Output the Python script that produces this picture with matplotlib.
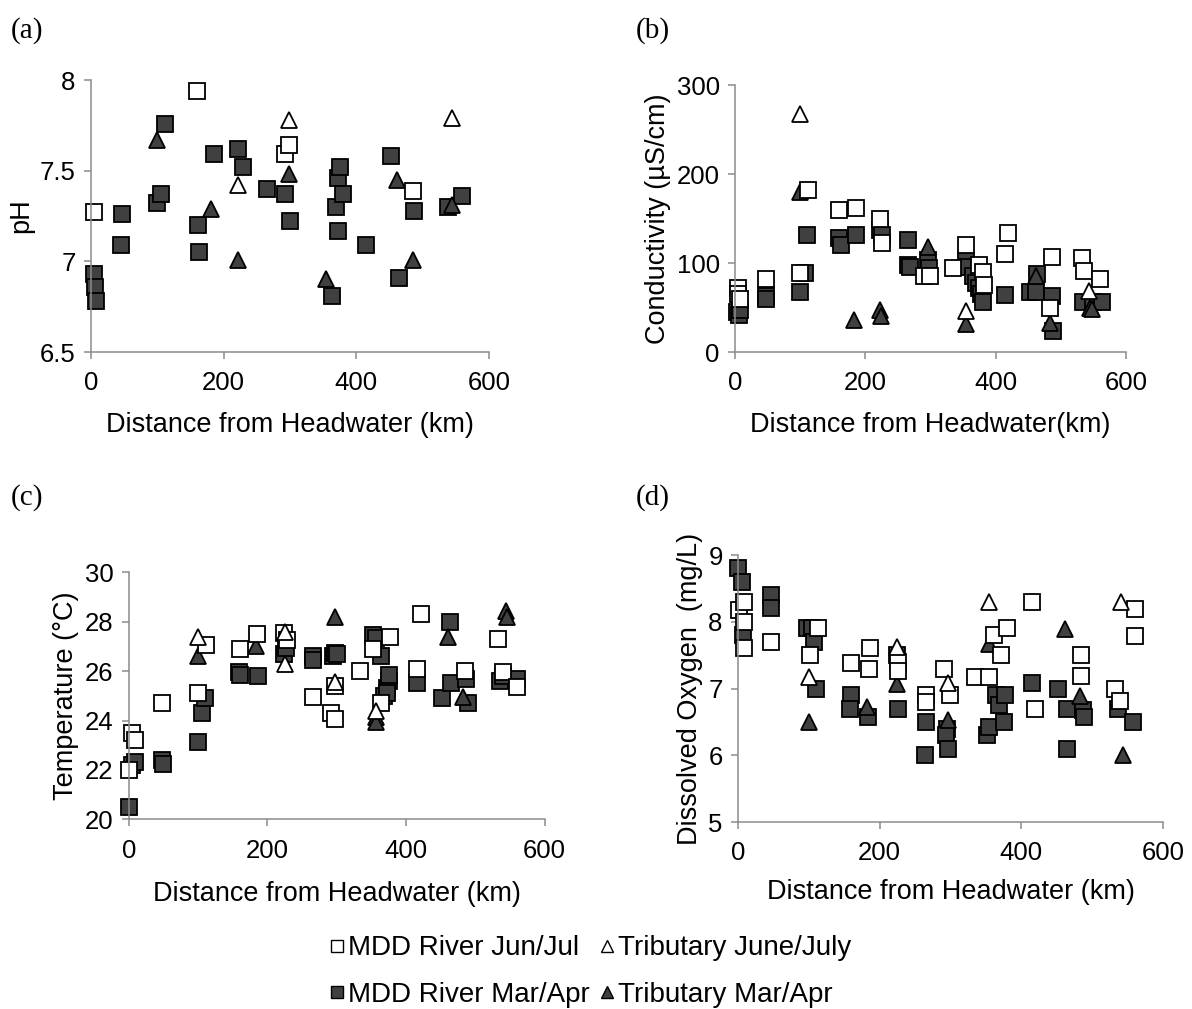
import matplotlib
matplotlib.use("Agg")
import matplotlib.pyplot as plt
from matplotlib.lines import Line2D

plt.rcParams['font.family'] = ['Liberation Sans', 'DejaVu Sans']

# (a) pH
a_mdd_jj_x = [5, 160, 292, 298, 486]
a_mdd_jj_y = [7.27, 7.94, 7.59, 7.64, 7.39]
a_trib_jj_x = [222, 298, 545]
a_trib_jj_y = [7.42, 7.78, 7.79]
a_mdd_ma_x = [4, 6, 7, 45, 47, 99, 105, 111, 161, 163, 186, 222, 229, 265, 293, 300,
              364, 369, 373, 373, 376, 380, 415, 453, 465, 487, 538, 560]
a_mdd_ma_y = [6.93, 6.86, 6.78, 7.09, 7.26, 7.32, 7.37, 7.76, 7.20, 7.05, 7.59, 7.62, 7.52, 7.40, 7.37, 7.22,
              6.81, 7.30, 7.46, 7.17, 7.52, 7.37, 7.09, 7.58, 6.91, 7.28, 7.30, 7.36]
a_trib_ma_x = [100, 181, 222, 298, 355, 462, 485, 545]
a_trib_ma_y = [7.67, 7.29, 7.01, 7.48, 6.90, 7.45, 7.01, 7.31]

# (b) conductivity
b_mdd_jj_x = [5, 5, 8, 47, 100, 112, 160, 186, 223, 226, 290, 300, 334, 355, 375, 380, 382,
              419, 415, 486, 484, 532, 536, 560]
b_mdd_jj_y = [72, 65, 60, 82, 89, 182, 160, 162, 150, 123, 85, 85, 94, 120, 98, 90, 75,
              134, 110, 107, 50, 106, 91, 82]
b_mdd_ma_x = [3, 6, 8, 47, 48, 100, 108, 110, 160, 162, 186, 222, 226, 265, 265, 268, 296, 298,
              355, 358, 366, 370, 375, 378, 380, 415, 452, 462, 464, 486, 488, 534, 550, 563]
b_mdd_ma_y = [45, 42, 47, 63, 60, 67, 89, 131, 128, 120, 132, 137, 131, 126, 98, 96, 103, 94,
              103, 95, 85, 78, 72, 65, 56, 64, 67, 67, 88, 63, 24, 56, 56, 56]
b_trib_jj_x = [100, 355, 543]
b_trib_jj_y = [268, 46, 69]
b_trib_ma_x = [100, 182, 222, 224, 296, 355, 462, 484, 545, 548]
b_trib_ma_y = [180, 36, 47, 41, 118, 31, 86, 33, 50, 48]

# (c) temperature
c_mdd_jj_x = [0, 5, 8, 47, 100, 111, 160, 185, 224, 228, 265, 292, 297, 298, 333, 353, 364,
              377, 416, 421, 485, 533, 540, 560]
c_mdd_jj_y = [22.0, 23.5, 23.2, 24.7, 25.1, 27.05, 26.9, 27.5, 27.55, 27.25, 24.95, 24.3, 24.05, 25.4,
              26.0, 26.9, 24.7, 27.4, 26.1, 28.3, 26.0, 27.3, 25.95, 25.35]
c_trib_jj_x = [100, 225, 225, 298, 356]
c_trib_jj_y = [27.4, 27.6, 26.3, 25.55, 24.4]
c_mdd_ma_x = [0, 5, 9, 47, 49, 100, 105, 110, 159, 161, 187, 224, 227, 265, 266, 294, 297, 300,
              353, 357, 364, 368, 372, 375, 376, 373, 416, 452, 465, 464, 487, 490, 536, 540, 560]
c_mdd_ma_y = [20.5, 22.2, 22.3, 22.4, 22.25, 23.15, 24.3, 24.9, 25.95, 25.85, 25.8, 26.7, 26.95, 26.6,
              26.45, 26.6, 26.75, 26.7, 27.45, 27.35, 26.6, 25.0, 25.3, 25.6, 25.85, 25.1, 25.5, 24.9,
              25.5, 28.0, 25.7, 24.7, 25.6, 25.8, 25.7]
c_trib_ma_x = [100, 183, 298, 356, 356, 461, 482, 545, 546]
c_trib_ma_y = [26.6, 27.0, 28.2, 24.15, 23.95, 27.4, 24.95, 28.45, 28.2]

# (d) dissolved oxygen
d_mdd_jj_x = [2, 8, 8, 8, 46, 101, 113, 160, 186, 185, 226, 226, 265, 266, 291, 299, 335, 354,
              361, 372, 380, 415, 420, 484, 484, 533, 540, 560, 560]
d_mdd_jj_y = [8.18, 8.3, 8.0, 7.6, 7.69, 7.5, 7.9, 7.38, 7.6, 7.3, 7.4, 7.27, 6.9, 6.8, 7.3, 6.9,
              7.18, 7.18, 7.8, 7.5, 7.9, 8.29, 6.69, 7.5, 7.19, 7.0, 6.82, 8.19, 7.79]
d_mdd_ma_x = [0, 5, 7, 47, 47, 98, 105, 107, 110, 160, 158, 184, 224, 226, 265, 264, 295, 294,
              297, 352, 355, 364, 369, 377, 376, 415, 452, 465, 464, 487, 489, 537, 558]
d_mdd_ma_y = [8.8, 8.6, 7.8, 8.4, 8.2, 7.9, 7.9, 7.7, 7.0, 6.9, 6.7, 6.58, 7.5, 6.7, 6.5, 6.0, 6.4,
              6.3, 6.1, 6.3, 6.43, 6.9, 6.76, 6.9, 6.5, 7.08, 7.0, 6.7, 6.1, 6.68, 6.57, 6.69, 6.5]
d_trib_jj_x = [100, 224, 297, 354, 541]
d_trib_jj_y = [7.18, 7.62, 7.08, 8.29, 8.29]
d_trib_ma_x = [100, 182, 224, 297, 354, 462, 483, 543]
d_trib_ma_y = [6.5, 6.73, 7.07, 6.53, 7.67, 7.89, 6.89, 6.0]

labels = ['MDD River Jun/Jul', 'MDD River Mar/Apr', 'Tributary June/July', 'Tributary Mar/Apr']

dark = '#404040'
gray = '#8c8c8c'
ms = 11.5

fig = plt.figure(figsize=(11.92, 10.09), dpi=100)

ax_a = fig.add_axes([0.0763, 0.6511, 0.3339, 0.2696])
ax_b = fig.add_axes([0.6166, 0.6511, 0.3280, 0.2646])
ax_c = fig.add_axes([0.1082, 0.1880, 0.3486, 0.2448])
ax_d = fig.add_axes([0.6191, 0.1853, 0.3565, 0.2646])


def draw(ax, mjx, mjy, mmx, mmy, tjx, tjy, tmx, tmy):
    ax.plot(mmx, mmy, 's', ms=ms, mfc=dark, mec='black', mew=1.3, ls='none', clip_on=False)
    ax.plot(tmx, tmy, '^', ms=ms, mfc=dark, mec='black', mew=1.3, ls='none', clip_on=False)
    ax.plot(mjx, mjy, 's', ms=ms, mfc='white', mec='black', mew=1.3, ls='none', clip_on=False)
    ax.plot(tjx, tjy, '^', ms=ms, mfc='white', mec='black', mew=1.3, ls='none', clip_on=False)
    for s in ['top', 'right']:
        ax.spines[s].set_visible(False)
    for s in ['left', 'bottom']:
        ax.spines[s].set_color(gray)
        ax.spines[s].set_linewidth(1.1)
    ax.tick_params(direction='out', length=5, width=1.1, color=gray, labelsize=18.5)
    ax.tick_params(axis='x', pad=9)
    ax.tick_params(axis='y', pad=6)
    ax.set_xlim(0, 600)
    ax.set_xticks([0, 200, 400, 600])


draw(ax_a, a_mdd_jj_x, a_mdd_jj_y, a_mdd_ma_x, a_mdd_ma_y, a_trib_jj_x, a_trib_jj_y, a_trib_ma_x, a_trib_ma_y)
ax_a.set_ylim(6.5, 8)
ax_a.set_yticks([6.5, 7, 7.5, 8])
ax_a.set_yticklabels(['6.5', '7', '7.5', '8'])
ax_a.set_ylabel('pH', fontsize=19.5, labelpad=4)
ax_a.set_xlabel('Distance from Headwater (km)', fontsize=19.5, labelpad=12)

draw(ax_b, b_mdd_jj_x, b_mdd_jj_y, b_mdd_ma_x, b_mdd_ma_y, b_trib_jj_x, b_trib_jj_y, b_trib_ma_x, b_trib_ma_y)
ax_b.set_ylim(0, 300)
ax_b.set_yticks([0, 100, 200, 300])
ax_b.set_ylabel('Conductivity (µS/cm)', fontsize=19.5, labelpad=4)
ax_b.set_xlabel('Distance from Headwater(km)', fontsize=19.5, labelpad=12)

draw(ax_c, c_mdd_jj_x, c_mdd_jj_y, c_mdd_ma_x, c_mdd_ma_y, c_trib_jj_x, c_trib_jj_y, c_trib_ma_x, c_trib_ma_y)
ax_c.set_ylim(20, 30)
ax_c.set_yticks([20, 22, 24, 26, 28, 30])
ax_c.set_ylabel('Temperature (°C)', fontsize=19.5, labelpad=4)
ax_c.set_xlabel('Distance from Headwater (km)', fontsize=19.5, labelpad=13)

draw(ax_d, d_mdd_jj_x, d_mdd_jj_y, d_mdd_ma_x, d_mdd_ma_y, d_trib_jj_x, d_trib_jj_y, d_trib_ma_x, d_trib_ma_y)
ax_d.set_ylim(5, 9)
ax_d.set_yticks([5, 6, 7, 8, 9])
ax_d.set_ylabel('Dissolved Oxygen  (mg/L)', fontsize=19.5, labelpad=4)
ax_d.set_xlabel('Distance from Headwater (km)', fontsize=19.5, labelpad=10)

for txt, x, y in [('(a)', 0.009, 0.97), ('(b)', 0.533, 0.97), ('(c)', 0.009, 0.507), ('(d)', 0.533, 0.507)]:
    fig.text(x, y, txt, fontsize=21, family='Liberation Serif', va='center')

handles = [
    Line2D([], [], ls='none', marker='s', ms=8, mfc='white', mec='black', mew=1.0),
    Line2D([], [], ls='none', marker='s', ms=8, mfc=dark, mec='black', mew=1.0),
    Line2D([], [], ls='none', marker='^', ms=8, mfc='white', mec='black', mew=1.0),
    Line2D([], [], ls='none', marker='^', ms=8, mfc=dark, mec='black', mew=1.0),
]
fig.legend(handles, labels, ncol=2, loc='center', bbox_to_anchor=(0.495, 0.037), frameon=False,
           fontsize=20, handlelength=0.6, handletextpad=0.1, columnspacing=0.3, labelspacing=0.75)

fig.savefig('out.png', dpi=100)
